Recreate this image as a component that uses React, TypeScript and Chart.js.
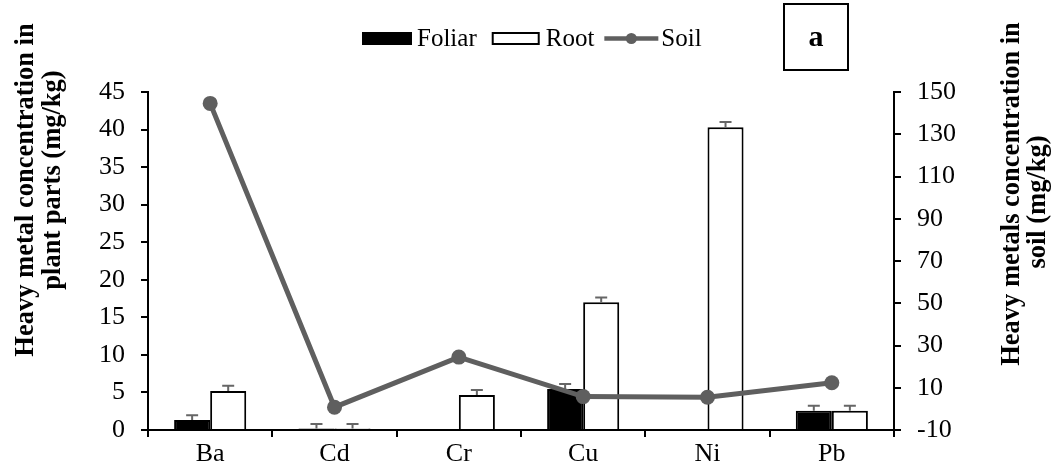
import React, { useEffect, useRef } from "react";
import { Chart, registerables } from "chart.js";

Chart.register(...registerables);

// ---- data ----
const categories = ["Ba", "Cd", "Cr", "Cu", "Ni", "Pb"];
const foliar = [1.33, 0.2, 0, 5.46, 0, 2.57];
const foliarErr = [0.65, 0.6, 0, 0.65, 0, 0.65];
const root = [5.2, 0.2, 4.66, 17.0, 40.3, 2.57];
const rootErr = [0.7, 0.6, 0.65, 0.65, 0.7, 0.67];
const soil = [144.6, 0.8, 24.5, 5.8, 5.5, 12.4];
const leftAxis = [0, 45, 5]; // min, max, step
const rightAxis = [-10, 150, 20];
const seriesNames = ["Foliar", "Root", "Soil"];
const leftTitle = ["Heavy metal concentration in", "plant parts (mg/kg)"];
const rightTitle = ["Heavy metals concentration in", "soil (mg/kg)"];
const panelLabel = "a";

const FONT = "'Liberation Serif', 'Times New Roman', serif";
const SOIL_COLOR = "#5f5f5f";

const errorBarPlugin = {
  id: "errorBars",
  afterDatasetDraw(chart: any, args: any) {
    const meta = args.meta;
    if (meta.type !== "bar") return;
    const errs = meta.index === 0 ? foliarErr : rootErr;
    const vals = meta.index === 0 ? foliar : root;
    const yScale = chart.scales.y;
    const ctx = chart.ctx;
    ctx.save();
    ctx.strokeStyle = "#666666";
    ctx.lineWidth = 2;
    meta.data.forEach((el: any, i: number) => {
      const e = errs[i];
      if (!e) return;
      const x = el.x;
      const y0 = yScale.getPixelForValue(vals[i]);
      const y1 = yScale.getPixelForValue(vals[i] + e);
      ctx.beginPath();
      ctx.moveTo(x, y0);
      ctx.lineTo(x, y1);
      ctx.moveTo(x - 6, y1);
      ctx.lineTo(x + 6, y1);
      ctx.stroke();
    });
    ctx.restore();
  },
};

function vtext(ctx: CanvasRenderingContext2D, text: string, x: number, y: number) {
  ctx.save();
  ctx.translate(x, y);
  ctx.rotate(-Math.PI / 2);
  ctx.textAlign = "center";
  ctx.textBaseline = "alphabetic";
  ctx.fillText(text, 0, 0);
  ctx.restore();
}

const decorPlugin = {
  id: "decor",
  afterDraw(chart: any) {
    const ctx: CanvasRenderingContext2D = chart.ctx;
    ctx.save();
    ctx.fillStyle = "#000";
    // axis titles
    ctx.font = `bold 26.5px ${FONT}`;
    vtext(ctx, leftTitle[0], 33, 190);
    vtext(ctx, leftTitle[1], 60, 180);
    vtext(ctx, rightTitle[0], 1019, 194);
    vtext(ctx, rightTitle[1], 1045, 202);

    // legend
    ctx.font = `25px ${FONT}`;
    ctx.textAlign = "left";
    ctx.textBaseline = "alphabetic";
    const yMid = 38.5;
    const base = 46;
    let x = 362;
    // Foliar
    ctx.fillStyle = "#000";
    ctx.fillRect(x, yMid - 6.5, 50, 13);
    x += 50 + 5;
    ctx.fillText(seriesNames[0], x, base);
    x += ctx.measureText(seriesNames[0]).width + 15;
    // Root
    ctx.fillStyle = "#fff";
    ctx.fillRect(x, yMid - 6.5, 48, 13);
    ctx.strokeStyle = "#000";
    ctx.lineWidth = 2;
    ctx.strokeRect(x + 1, yMid - 5.5, 46, 11);
    x += 48 + 6;
    ctx.fillStyle = "#000";
    ctx.fillText(seriesNames[1], x, base);
    x += ctx.measureText(seriesNames[1]).width + 10;
    // Soil
    ctx.strokeStyle = SOIL_COLOR;
    ctx.lineWidth = 4.5;
    ctx.beginPath();
    ctx.moveTo(x, yMid);
    ctx.lineTo(x + 54, yMid);
    ctx.stroke();
    ctx.fillStyle = SOIL_COLOR;
    ctx.beginPath();
    ctx.arc(x + 27, yMid, 5.5, 0, Math.PI * 2);
    ctx.fill();
    x += 54 + 3;
    ctx.fillStyle = "#000";
    ctx.fillText(seriesNames[2], x, base);

    // panel label box
    ctx.strokeStyle = "#000";
    ctx.lineWidth = 2;
    ctx.strokeRect(784, 4, 64, 66);
    ctx.font = `bold 30px ${FONT}`;
    ctx.textAlign = "center";
    ctx.fillText(panelLabel, 816, 46);
    ctx.restore();
  },
};

export default function App() {
  const ref = useRef<HTMLCanvasElement>(null);
  useEffect(() => {
    if (!ref.current) return;
    const tickFont = { family: FONT, size: 26 };
    const chart = new Chart(ref.current, {
      type: "bar",
      data: {
        labels: categories,
        datasets: [
          {
            type: "bar",
            label: seriesNames[0],
            data: foliar,
            backgroundColor: "#000000",
            borderColor: "#000000",
            borderWidth: 2,
            yAxisID: "y",
            order: 1,
            categoryPercentage: 0.58,
            barPercentage: 1.0,
          },
          {
            type: "bar",
            label: seriesNames[1],
            data: root,
            backgroundColor: "#ffffff",
            borderColor: "#000000",
            borderWidth: 2,
            yAxisID: "y",
            order: 1,
            categoryPercentage: 0.58,
            barPercentage: 1.0,
          },
          {
            type: "line",
            label: seriesNames[2],
            data: soil,
            borderColor: SOIL_COLOR,
            backgroundColor: SOIL_COLOR,
            borderWidth: 5,
            pointRadius: 7.5,
            pointBorderWidth: 0,
            pointBackgroundColor: SOIL_COLOR,
            yAxisID: "y1",
            order: 0,
            tension: 0,
            clip: false,
          } as any,
        ],
      },
      options: {
        animation: false,
        responsive: true,
        maintainAspectRatio: false,
        layout: { padding: { top: 92, left: 0, right: 0, bottom: 0 } },
        plugins: {
          legend: { display: false },
          tooltip: { enabled: false },
        },
        scales: {
          x: {
            grid: {
              drawOnChartArea: false,
              drawTicks: true,
              tickLength: 7,
              color: "#000",
              lineWidth: 2,
              offset: true,
            },
            border: { display: true, color: "#000", width: 2 },
            ticks: { color: "#000", font: tickFont, padding: 2, maxRotation: 0 },
            afterFit: (s: any) => {
              s.height = 45;
            },
          },
          y: {
            position: "left",
            min: leftAxis[0],
            max: leftAxis[1],
            grid: {
              drawOnChartArea: false,
              drawTicks: true,
              tickLength: 7,
              color: "#000",
              lineWidth: 2,
            },
            border: { display: true, color: "#000", width: 2 },
            ticks: { stepSize: leftAxis[2], color: "#000", font: tickFont, padding: 16 },
            afterFit: (s: any) => {
              s.width = 148;
            },
          },
          y1: {
            position: "right",
            min: rightAxis[0],
            max: rightAxis[1],
            grid: {
              drawOnChartArea: false,
              drawTicks: true,
              tickLength: 7,
              color: "#000",
              lineWidth: 2,
            },
            border: { display: true, color: "#000", width: 2 },
            ticks: { stepSize: rightAxis[2], color: "#000", font: tickFont, padding: 16 },
            afterFit: (s: any) => {
              s.width = 162;
            },
          },
        },
      } as any,
      plugins: [errorBarPlugin, decorPlugin],
    });
    return () => chart.destroy();
  }, []);
  return (
    <div style={{ position: "fixed", left: 0, top: 0, width: 1056, height: 475, background: "#fff" }}>
      <canvas ref={ref} />
    </div>
  );
}
